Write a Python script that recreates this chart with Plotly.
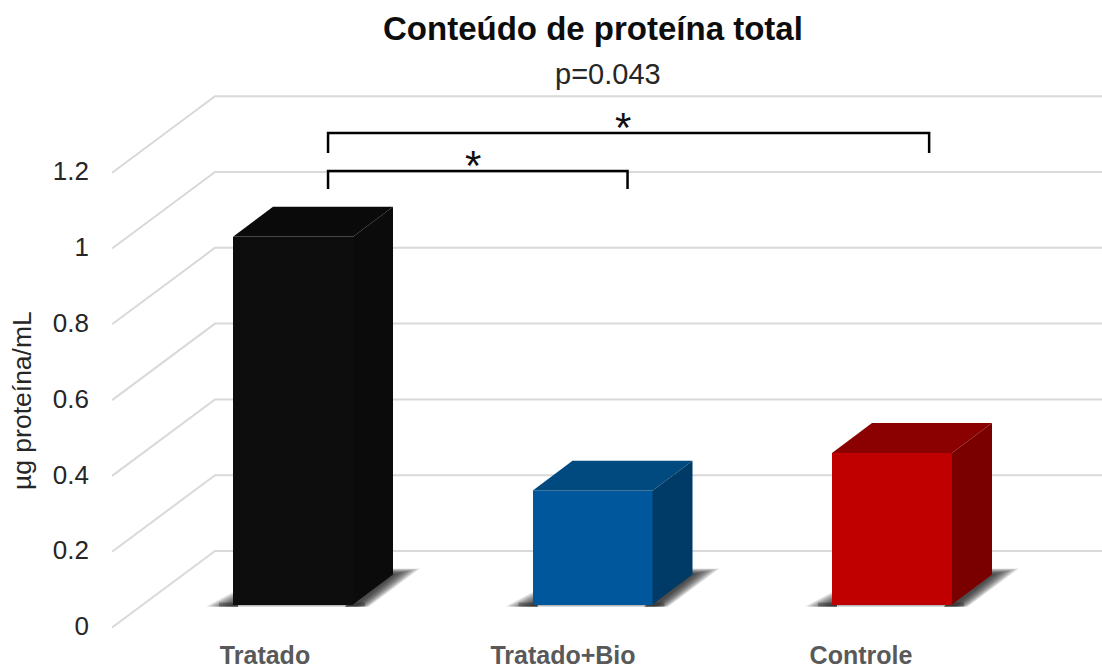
import plotly.graph_objects as go

# Chart data
categories = ["Tratado", "Tratado+Bio", "Controle"]
values = [0.97, 0.30, 0.40]
y_ticks = [0, 0.2, 0.4, 0.6, 0.8, 1.0, 1.2]
y_tick_labels = ["0", "0.2", "0.4", "0.6", "0.8", "1", "1.2"]

front_colors = ["#0d0d0d", "#01579b", "#c00000"]
top_colors = ["#0a0a0a", "#014a80", "#8b0000"]
side_colors = ["#0b0b0b", "#003a66", "#7a0000"]

# Scale of the axes, in pixels per data unit
PX_X = 299.5
PX_Y = 379.0
BAR_WIDTH = 120 / PX_X

# Plot area placement inside the page
LEFT = 100
BOTTOM = 638
ZERO_X = 293
ZERO_Y = 604.5

# Oblique projection offsets used for the fake 3D
BAR_DX, BAR_DY = 40 / PX_X, 30 / PX_Y
WALL_LEFT, WALL_BACK = -0.604, -0.2604
WALL_FRONT_Y, WALL_BACK_Y = -0.0607, 0.1411

GRID = "#d9d9d9"
FONT = "Liberation Sans"
SHADOW_LAYERS = 14


def path(points):
    return "M " + " L ".join(f"{x:.5f},{y:.5f}" for x, y in points) + " Z"


def data_y(py):
    return (ZERO_Y - py) / PX_Y


def data_x(px):
    return (px - ZERO_X) / PX_X


def paper_x(px):
    return (px - LEFT) / (1102 - LEFT)


def paper_y(py):
    return 1 - py / BOTTOM


fig = go.Figure()
shapes = []

# Back wall and side wall grid lines
for tick in y_ticks:
    shapes.append(dict(
        type="path", layer="below", xref="x", yref="y",
        path=f"M {WALL_LEFT},{tick + WALL_FRONT_Y} L {WALL_BACK},{tick + WALL_BACK_Y} L 2.8,{tick + WALL_BACK_Y}",
        line=dict(color=GRID, width=2),
    ))

# Soft floor shadow around each bar, built from stacked translucent polygons
for i in range(len(categories)):
    left = i - BAR_WIDTH / 2
    right = i + BAR_WIDTH / 2
    under = -2 / PX_Y
    shapes.append(dict(
        type="path", layer="below", xref="x", yref="y", line=dict(width=0),
        fillcolor="rgba(110,110,110,0.5)",
        path=path([(left - 14 / PX_X, under), (right + 12 / PX_X, under),
                   (right + 12 / PX_X, 2 / PX_Y), (left - 14 / PX_X, 2 / PX_Y)]),
    ))
    for step in range(1, SHADOW_LAYERS + 1):
        k = step / SHADOW_LAYERS
        shapes.append(dict(
            type="path", layer="below", xref="x", yref="y", line=dict(width=0),
            fillcolor="rgba(25,25,25,0.1)",
            path=path([
                (left - 27 * k / PX_X, under),
                (left + 5 / PX_X, (1 + 14 * k) / PX_Y),
                (left + 5 / PX_X, under),
            ]),
        ))
        shapes.append(dict(
            type="path", layer="below", xref="x", yref="y", line=dict(width=0),
            fillcolor="rgba(25,25,25,0.1)",
            path=path([
                (right - 8 / PX_X, under),
                (right + BAR_DX - 8 / PX_X, BAR_DY),
                (right + BAR_DX - 8 / PX_X, (30 + 6 * k) / PX_Y),
                (right + (40 + 27 * k) / PX_X, (30 + 6 * k) / PX_Y),
                (right + (2 + 14 * k) / PX_X, under),
            ]),
        ))

# Front faces
fig.add_trace(go.Bar(
    x=[0, 1, 2], y=values, width=BAR_WIDTH,
    marker=dict(color=front_colors, line=dict(width=0)),
    hoverinfo="skip",
))

# Top and right faces derived from the same values
for i, value in enumerate(values):
    left = i - BAR_WIDTH / 2
    right = i + BAR_WIDTH / 2
    fig.add_trace(go.Scatter(
        x=[left, right, right + BAR_DX, left + BAR_DX, left],
        y=[value, value, value + BAR_DY, value + BAR_DY, value],
        mode="lines", fill="toself", fillcolor=top_colors[i],
        line=dict(width=0, color=top_colors[i]), hoverinfo="skip",
    ))
    fig.add_trace(go.Scatter(
        x=[right, right + BAR_DX, right + BAR_DX, right, right],
        y=[0, BAR_DY, value + BAR_DY, value, 0],
        mode="lines", fill="toself", fillcolor=side_colors[i],
        line=dict(width=0, color=side_colors[i]), hoverinfo="skip",
    ))

# Significance brackets
brackets = [
    dict(x=[0.117, 0.117, 1.117, 1.117], y=[1.096, 1.144, 1.144, 1.096]),
    dict(x=[0.117, 0.117, 2.124, 2.124], y=[1.191, 1.244, 1.244, 1.191]),
]
for b in brackets:
    fig.add_trace(go.Scatter(
        x=b["x"], y=b["y"], mode="lines",
        line=dict(color="#000000", width=2.5), hoverinfo="skip",
    ))

annotations = [
    dict(text="*", x=data_x(472.5), y=data_y(165), xref="x", yref="y", showarrow=False,
         font=dict(family=FONT, size=42, color="#111111"), yanchor="middle"),
    dict(text="*", x=data_x(623), y=data_y(127), xref="x", yref="y", showarrow=False,
         font=dict(family=FONT, size=42, color="#111111"), yanchor="middle"),
    dict(text="<b>Conteúdo de proteína total</b>", x=paper_x(593), y=paper_y(28),
         xref="paper", yref="paper", showarrow=False, yanchor="middle", xanchor="center",
         font=dict(family=FONT, size=33, color="#0d0d0d")),
    dict(text="p=0.043", x=paper_x(608), y=paper_y(74),
         xref="paper", yref="paper", showarrow=False, yanchor="middle", xanchor="center",
         font=dict(family=FONT, size=29, color="#262626")),
    dict(text="µg proteína/mL", x=paper_x(22), y=paper_y(401), textangle=-90,
         xref="paper", yref="paper", showarrow=False, yanchor="middle", xanchor="center",
         font=dict(family=FONT, size=26.5, color="#262626")),
]

fig.update_layout(
    width=1102, height=668,
    margin=dict(l=LEFT, r=0, t=0, b=668 - BOTTOM),
    paper_bgcolor="white", plot_bgcolor="white",
    showlegend=False, bargap=0,
    shapes=shapes, annotations=annotations,
    xaxis=dict(
        automargin=False,
        range=[data_x(LEFT), data_x(1102)],
        tickmode="array", tickvals=[data_x(p) for p in (265, 563, 861)],
        ticktext=[f"<b>{c}</b>" for c in categories],
        tickfont=dict(family=FONT, size=25, color="#595959"),
        ticklabelstandoff=0,
        showgrid=False, zeroline=False, showline=False, ticks="",
    ),
    yaxis=dict(
        automargin=False,
        range=[data_y(BOTTOM), data_y(0)],
        tickmode="array", tickvals=[t - 0.0568 for t in y_ticks],
        ticktext=y_tick_labels,
        tickfont=dict(family=FONT, size=26, color="#262626"),
        ticklabelstandoff=10,
        showgrid=False, zeroline=False, showline=False, ticks="",
    ),
)

fig.write_html("out.html")
